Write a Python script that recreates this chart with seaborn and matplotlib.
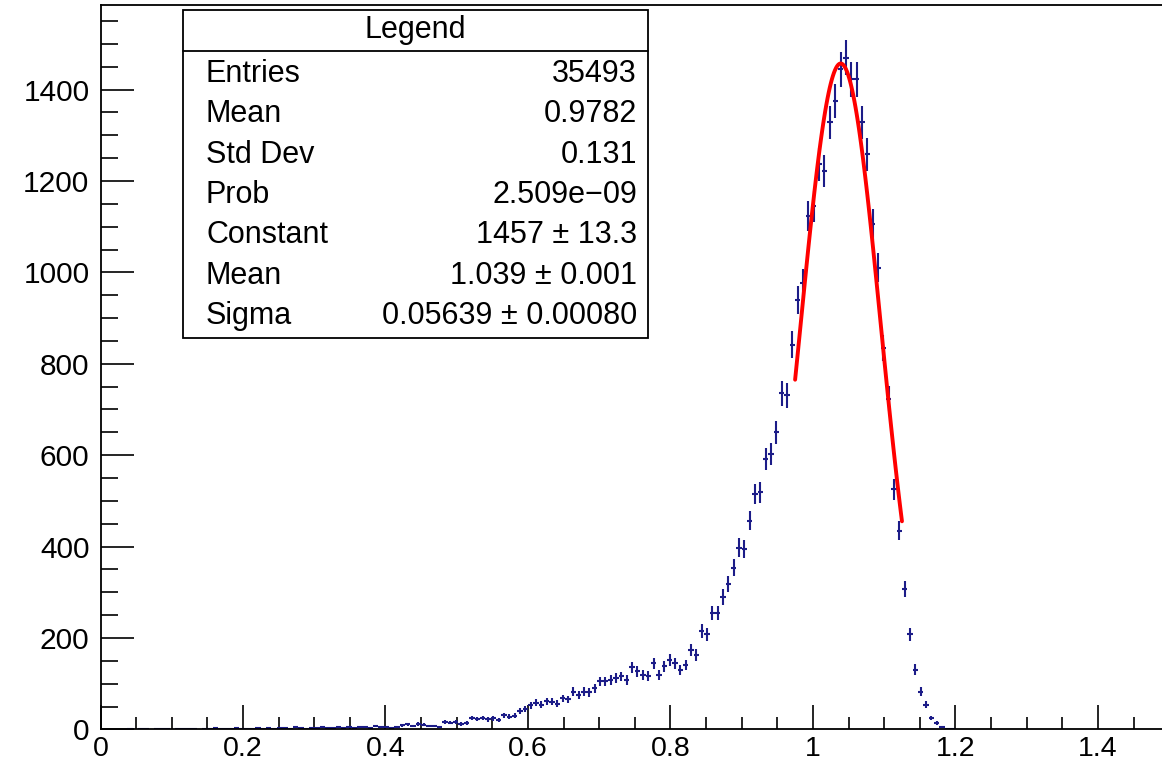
import numpy as np
import pandas as pd
import seaborn as sns
import matplotlib
matplotlib.use("Agg")
import matplotlib.pyplot as plt
from matplotlib.patches import Rectangle
from matplotlib.lines import Line2D
from matplotlib.ticker import MultipleLocator, FuncFormatter

# histogram binning: 200 bins between 0 and 1.5
x_min, x_max, n_bins = 0.0, 1.5, 200

# bin contents
counts_low = [0, 0, 0, 0, 0, 1, 0, 1, 1, 0, 1, 2, 1, 0, 1,
              1, 2, 1, 0, 2, 1, 3, 2, 1, 2, 3, 1, 2, 2, 3,
              2, 3, 2, 4, 3, 2, 5, 3, 2, 4, 3, 5, 4, 3, 6,
              4, 5, 3, 6, 5, 4, 7, 5]
counts_shoulder = [5, 4, 6, 9, 11, 8, 12, 10, 8, 7, 6, 16, 15, 17, 12,
                   14, 25, 23, 25, 22, 24, 21, 31, 28, 30, 41, 45, 53, 58, 54,
                   62, 61, 56, 68, 66, 83, 76, 83, 81, 90, 105, 105, 108, 112, 116,
                   108, 136, 127, 119, 117, 145, 119, 138, 152, 145, 130, 141, 174, 163, 215]
counts_rise = [208, 255, 255, 290, 318, 354, 398, 395, 457, 515,
               519, 592, 603, 650, 735, 731, 842]
counts_peak = [940, 977, 1123, 1145, 1236, 1222, 1328, 1375, 1444, 1470,
               1422, 1422, 1328, 1258, 1105, 1010, 835, 724, 526, 435,
               307, 208, 131, 83, 54, 25, 14, 6, 2, 1]

# gaussian fit result shown in the stats box
fit_const, fit_mean, fit_sigma = 1457.0, 1.039, 0.05639
fit_range = (0.975, 1.125)

stat_names = ["Entries", "Mean", "Std Dev", "Prob", "Constant", "Mean", "Sigma"]
stat_values = ["35493", "0.9782", "0.131", "2.509e\u221209",
               "1457 \u00b1 13.3", "1.039 \u00b1 0.001", "0.05639 \u00b1 0.00080"]

counts = np.array(counts_low + counts_shoulder + counts_rise + counts_peak, dtype=float)
counts = np.concatenate([counts, np.zeros(n_bins - len(counts))])
bw = (x_max - x_min) / n_bins
centers = x_min + bw * (np.arange(n_bins) + 0.5)
hist = pd.DataFrame({"x": centers, "n": counts})
hist = hist[hist.n > 0]

sns.set_style("white")
plt.rcParams['font.family'] = ['Liberation Sans', 'DejaVu Sans']
plt.rcParams['text.color'] = 'black'
plt.rcParams['xtick.color'] = 'black'
plt.rcParams['ytick.color'] = 'black'

fig = plt.figure(figsize=(11.62, 7.64), dpi=100)
ax = fig.add_axes([0.0865, 0.0452, 0.9135, 0.9483])

ax.errorbar(hist.x, hist.n, xerr=bw / 2, yerr=np.sqrt(hist.n), fmt='none',
            ecolor='#1c1c88', elinewidth=1.5, capsize=0, zorder=2)

xf = np.linspace(fit_range[0], fit_range[1], 100)
fit = pd.DataFrame({"x": xf,
                    "y": fit_const * np.exp(-0.5 * ((xf - fit_mean) / fit_sigma) ** 2)})
sns.lineplot(data=fit, x="x", y="y", color='red', lw=2.8, ax=ax, zorder=3)

ax.set_xlim(0, 1.49)
ax.set_ylim(0, 1585)
ax.set_xlabel("")
ax.set_ylabel("")

ax.xaxis.set_major_locator(MultipleLocator(0.2))
ax.xaxis.set_minor_locator(MultipleLocator(0.05))
ax.yaxis.set_major_locator(MultipleLocator(200))
ax.yaxis.set_minor_locator(MultipleLocator(50))
ax.xaxis.set_major_formatter(FuncFormatter(lambda v, p: "%g" % round(v, 3)))
ax.tick_params(axis='x', which='major', direction='in', length=17, width=1.2,
               labelsize=20.5, pad=5, bottom=True, top=False, labelcolor='black')
ax.tick_params(axis='x', which='minor', direction='in', length=8.5, width=1.2,
               bottom=True, top=False)
ax.tick_params(axis='y', which='major', direction='in', length=24, width=1.2,
               labelsize=21.5, pad=8, left=True, right=False, labelcolor='black')
ax.tick_params(axis='y', which='minor', direction='in', length=12, width=1.2,
               left=True, right=False)
for s in ax.spines.values():
    s.set_color('black')
    s.set_linewidth(1.3)
ax.spines['right'].set_visible(False)

# stats box
x0, x1 = 183 / 1162, 648 / 1162
y0, y1 = 1 - 338 / 764, 1 - 10 / 764
fig.patches.append(Rectangle((x0, y0), x1 - x0, y1 - y0, transform=fig.transFigure,
                             facecolor='white', edgecolor='black', lw=1.3, zorder=5))
fig.lines.append(Line2D([x0, x1], [1 - 51 / 764] * 2, transform=fig.transFigure,
                        color='black', lw=1.3, zorder=6))
fig.text((x0 + x1) / 2, 1 - 30 / 764, "Legend", ha='center', va='center',
         fontsize=22, color='black', zorder=7)
for i, (name, val) in enumerate(zip(stat_names, stat_values)):
    yy = 1 - (74 + i * 40.3) / 764
    fig.text(206 / 1162, yy, name, ha='left', va='center', fontsize=22,
             color='black', zorder=7)
    fig.text(637 / 1162, yy, val, ha='right', va='center', fontsize=22,
             color='black', zorder=7)

fig.savefig("out.png", dpi=100)
